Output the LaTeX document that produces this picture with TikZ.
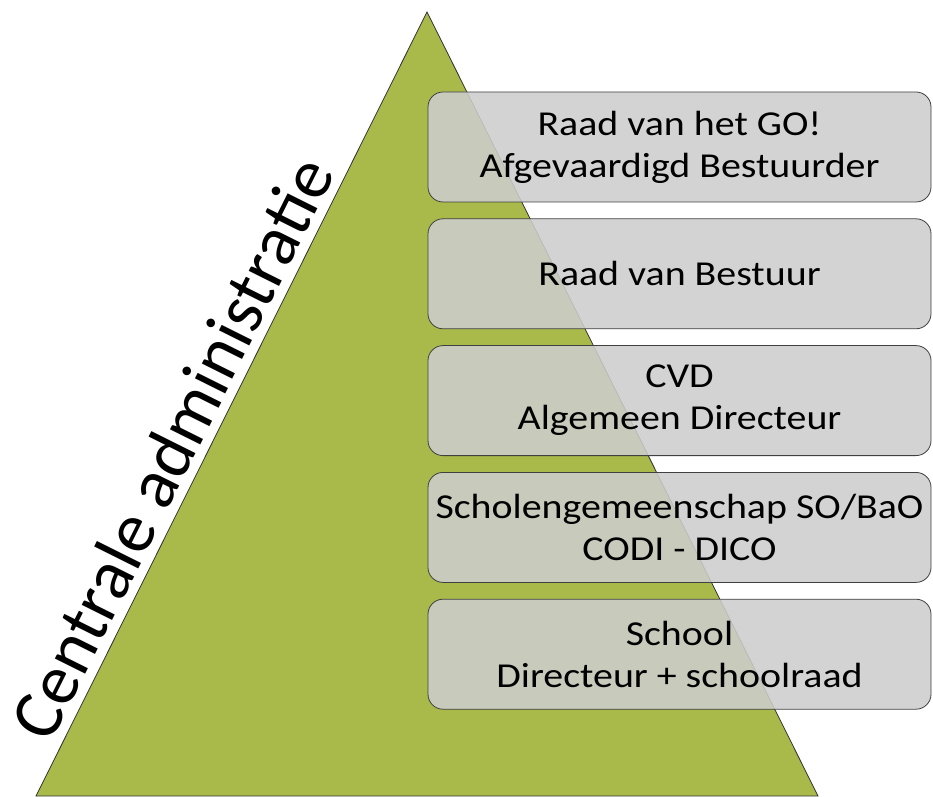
\documentclass[tikz,border=0pt]{standalone}
\usepackage{fontspec}
\setmainfont{Carlito}
\newfontfamily\lvlfont[FakeStretch=1.14]{Carlito}
\usepackage{tikz}
\usetikzlibrary{calc}
\definecolor{pgreen}{HTML}{A9BA4B}
\definecolor{pgrey}{HTML}{CDCDCD}

\begin{document}
\begin{tikzpicture}[x=1pt, y=1pt,
    LVL/.style={draw=black!75, fill=pgrey, fill opacity=0.87, text opacity=1, thick, rectangle, rounded corners=15pt, minimum width=503pt, minimum height=110pt, inner sep=0pt, align=center, font=\lvlfont\fontsize{35}{42}\selectfont},
    SIDE/.style={inner sep=0pt, font=\fontsize{71}{80}\selectfont}
    ]
        \useasboundingbox (0,0) rectangle (933,796);
        % pyramid
        \coordinate (T) at (427,784);
        \coordinate (L) at (36,0);
        \coordinate (R) at (818,0);
        \draw[fill=pgreen, draw=black!80, line width=0.8pt] (T) -- (L) -- (R) -- cycle;
        \path (L) -- (T) node[SIDE, pos=0.425, sloped, above=9pt] (side) {Centrale administratie};
        % levels
        \node[LVL] (B1) at (679.5,649) {Raad van het GO!\\Afgevaardigd Bestuurder};
        \node[LVL, anchor=north] (B2) at ($(B1.south)+(0,-16)$) {Raad van Bestuur};
        \node[LVL, anchor=north] (B3) at ($(B2.south)+(0,-16)$) {CVD\\Algemeen Directeur};
        \node[LVL, anchor=north] (B4) at ($(B3.south)+(0,-16)$) {Scholengemeenschap SO/BaO\\CODI - DICO};
        \node[LVL, anchor=north] (B5) at ($(B4.south)+(0,-16)$) {School\\Directeur + schoolraad};
    \end{tikzpicture}
\end{document}
